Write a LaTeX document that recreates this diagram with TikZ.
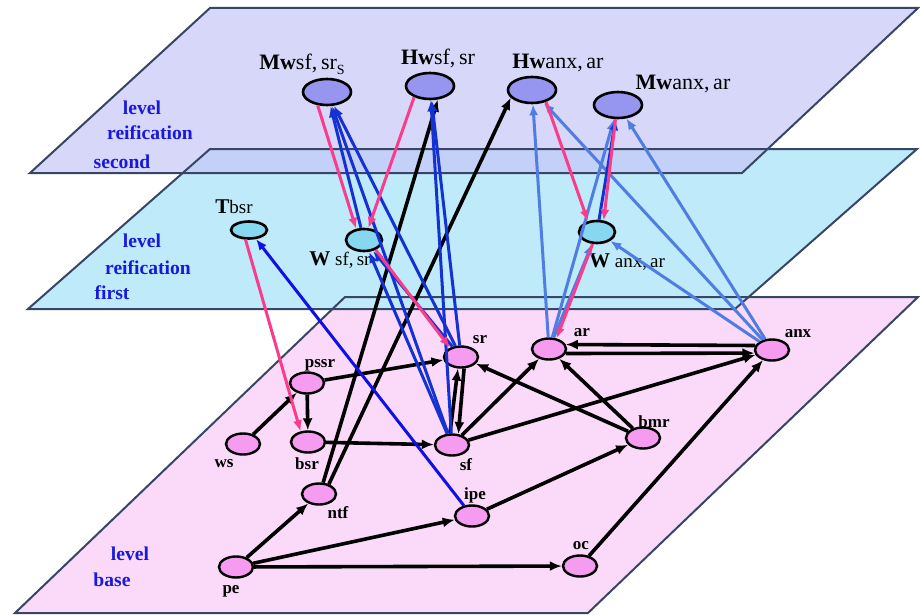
\documentclass[tikz,border=0pt]{standalone}
\usepackage{fontspec}
\setmainfont{Liberation Serif}
\usepackage{tikz}
\usetikzlibrary{shapes.geometric, arrows.meta, calc}

\definecolor{planetop}{RGB}{198,198,246}
\definecolor{planemid}{RGB}{190,234,250}
\definecolor{planebase}{RGB}{250,218,248}
\definecolor{planeline}{RGB}{55,70,100}
\definecolor{nodetop}{RGB}{150,150,240}
\definecolor{nodemid}{RGB}{135,215,240}
\definecolor{nodebase}{RGB}{245,155,240}
\definecolor{darkblue}{RGB}{20,50,210}
\definecolor{lightblue}{RGB}{80,125,225}
\definecolor{pureblue}{RGB}{15,15,230}
\definecolor{hotpink}{RGB}{250,60,140}
\definecolor{levelblue}{RGB}{25,25,220}

\begin{document}
\begin{tikzpicture}[x=0.5pt, y=-0.5pt,
    lvtwo/.style={ellipse, draw, line width=1.3pt, fill=nodetop, minimum width=24pt, minimum height=13pt, inner sep=0pt},
    lvone/.style={ellipse, draw, line width=1.3pt, fill=nodemid, minimum width=18pt, minimum height=11pt, inner sep=0pt},
    lvbase/.style={ellipse, draw, line width=1.2pt, fill=nodebase, minimum width=17pt, minimum height=10.5pt, inner sep=0pt},
    toplbl/.style={font=\fontsize{11}{12}\selectfont, inner sep=0pt},
    midlbl/.style={font=\fontsize{9.5}{11}\selectfont, inner sep=0pt},
    baselbl/.style={font=\fontsize{8.5}{10}\selectfont\bfseries, inner sep=0pt},
    levellbl/.style={font=\fontsize{9.8}{11}\selectfont\bfseries, text=levelblue, inner sep=0pt},
    blackarr/.style={-{Latex[length=6pt,width=5pt]}, line width=1.8pt, black},
    bluearr/.style={-{Latex[length=5.5pt,width=4.5pt]}, line width=1.5pt, darkblue},
    lbluearr/.style={-{Latex[length=5.5pt,width=4.5pt]}, line width=1.5pt, lightblue},
    pinkarr/.style={-{Latex[length=5.5pt,width=4.5pt]}, line width=1.5pt, hotpink},
    planeedge/.style={draw=planeline, line width=1pt}]
    \useasboundingbox (0,0) rectangle (920,615);

    % Planes
    \fill[planebase] (345,297) -- (918,297) -- (588,613) -- (15,613) -- cycle;
    \fill[planemid] (210,149) -- (917,149) -- (735,309) -- (28,309) -- cycle;
    \fill[planetop, fill opacity=0.7] (210,8) -- (918,8) -- (742,173) -- (30,173) -- cycle;
    \draw[planeedge] (345,297) -- (918,297) -- (588,613) -- (15,613) -- cycle;
    \draw[planeedge] (210,149) -- (917,149) -- (735,309) -- (28,309) -- cycle;
    \draw[planeedge] (210,8) -- (918,8) -- (742,173) -- (30,173) -- cycle;

    % Level labels
    \node (lvltwoa) [levellbl] at (142,108) {level};
    \node (lvltwob) [levellbl] at (150,133) {reification};
    \node (lvltwoc) [levellbl] at (122,162) {second};
    \node (lvlonea) [levellbl] at (142,241) {level};
    \node (lvloneb) [levellbl] at (148,268) {reification};
    \node (lvlonec) [levellbl] at (112,293) {first};
    \node (lvlbasea) [levellbl] at (130,554) {level};
    \node (lvlbaseb) [levellbl] at (112,580) {base};

    % Nodes: second reification level
    \node (mwsfsr) [lvtwo] at (327,92) {};
    \node (hwsfsr) [lvtwo] at (430,86) {};
    \node (hwanxar) [lvtwo] at (532,90) {};
    \node (mwanxar) [lvtwo] at (618,105) {};
    \node (mwsfsrlbl) [toplbl] at (302,64) {\textbf{Mw}sf,\,sr\raisebox{-2.5pt}{\fontsize{7}{8}\selectfont S}};
    \node (hwsfsrlbl) [toplbl] at (438,58) {\textbf{Hw}sf,\,sr};
    \node (hwanxarlbl) [toplbl] at (558,63) {\textbf{Hw}anx,\,ar};
    \node (mwanxarlbl) [toplbl] at (683,84) {\textbf{Mw}anx,\,ar};

    % Nodes: first reification level
    \node (tbsr) [lvone, minimum height=8.5pt] at (249,230) {};
    \node (wsfsr) [lvone] at (364,240) {};
    \node (wanxar) [lvone] at (597,232) {};
    \node (tbsrlbl) [midlbl] at (234,207) {{\fontsize{10.5}{11}\selectfont\textbf{T}}bsr};
    \node (wsfsrlbl) [midlbl] at (340,260) {{\fontsize{10.5}{11}\selectfont\textbf{W}} sf,\,sr};
    \node (wanxarlbl) [midlbl] at (627,262) {{\fontsize{10.5}{11}\selectfont\textbf{W}} anx,\,ar};

    % Nodes: base level
    \node (sr) [lvbase] at (461,357) {};
    \node (pssr) [lvbase] at (307,383) {};
    \node (ws) [lvbase] at (243,444) {};
    \node (bsr) [lvbase] at (308,442) {};
    \node (sf) [lvbase] at (452,445) {};
    \node (ntf) [lvbase] at (319,494) {};
    \node (ipe) [lvbase] at (472,516) {};
    \node (ar) [lvbase] at (549,349) {};
    \node (anx) [lvbase] at (772,350) {};
    \node (bmr) [lvbase] at (643,438) {};
    \node (pe) [lvbase] at (236,567) {};
    \node (oc) [lvbase] at (580,566) {};
    \node (srlbl) [baselbl] at (480,340) {sr};
    \node (pssrlbl) [baselbl] at (320,365) {pssr};
    \node (wslbl) [baselbl] at (224,464) {ws};
    \node (bsrlbl) [baselbl] at (307,464) {bsr};
    \node (sflbl) [baselbl] at (466,465) {sf};
    \node (ntflbl) [baselbl] at (338,513) {ntf};
    \node (ipelbl) [baselbl] at (475,495) {ipe};
    \node (arlbl) [baselbl] at (582,333) {ar};
    \node (anxlbl) [baselbl] at (798,334) {anx};
    \node (bmrlbl) [baselbl] at (654,422) {bmr};
    \node (pelbl) [baselbl] at (231,591) {pe};
    \node (oclbl) [baselbl] at (581,546) {oc};

    % Arrows: base level
    \draw[blackarr] (ws) -- (pssr);
    \draw[blackarr] (pssr) -- (bsr);
    \draw[blackarr] (pssr) -- (sr);
    \draw[blackarr] (bsr) -- (sf);
    \draw[blackarr] (sf.100) -- (sr.255);
    \draw[blackarr] (sr.285) -- (sf.60);
    \draw[blackarr] (sf) -- (ar);
    \draw[blackarr] (sf) -- (anx);
    \draw[blackarr] (bmr) -- (sr);
    \draw[blackarr] (bmr) -- (ar);
    \draw[blackarr] (anx.165) -- (ar.15);
    \draw[blackarr] (ar.-15) -- (anx.-170);
    \draw[blackarr] (ipe) -- (bmr);
    \draw[blackarr] (oc) -- (anx);
    \draw[blackarr] (pe) -- (ntf);
    \draw[blackarr] (pe) -- (ipe);
    \draw[blackarr] (pe) -- (oc);
    \draw[blackarr] (ntf.70) -- (hwsfsr.-60);
    \draw[blackarr] (ntf.45) -- (hwanxar.200);

    % Arrows: upward to the reification states
    \draw[bluearr] (sf) -- (wsfsr);
    \draw[bluearr] (sr) -- (wsfsr);
    \draw[bluearr] (sf) -- (mwsfsr);
    \draw[bluearr] (sr) -- (mwsfsr);
    \draw[bluearr] (wsfsr) -- (mwsfsr);
    \draw[bluearr] (sf) -- (hwsfsr);
    \draw[bluearr] (sr) -- (hwsfsr);
    \draw[lbluearr] (ar) -- (wanxar);
    \draw[lbluearr] (anx) -- (wanxar);
    \draw[lbluearr] (ar) -- (hwanxar);
    \draw[lbluearr] (anx) -- (hwanxar);
    \draw[lbluearr] (ar) -- (mwanxar);
    \draw[lbluearr] (anx) -- (mwanxar);
    \draw[bluearr] (wanxar) -- (mwanxar);
    \draw[-{Latex[length=5.5pt,width=4.5pt]}, line width=1.5pt, pureblue] (ipe) -- (tbsr);

    % Arrows: downward from the reification states
    \draw[pinkarr] (mwsfsr.235) -- (wsfsr.125);
    \draw[pinkarr] (hwsfsr.215) -- (wsfsr.70);
    \draw[pinkarr] (wsfsr.-40) -- (sr.140);
    \draw[pinkarr] (tbsr.250) -- (bsr.125);
    \draw[pinkarr] (hwanxar.-40) -- (wanxar.130);
    \draw[pinkarr] (mwanxar.-100) -- (wanxar.60);
    \draw[pinkarr] (wanxar.-110) -- (ar.55);
\end{tikzpicture}
\end{document}
